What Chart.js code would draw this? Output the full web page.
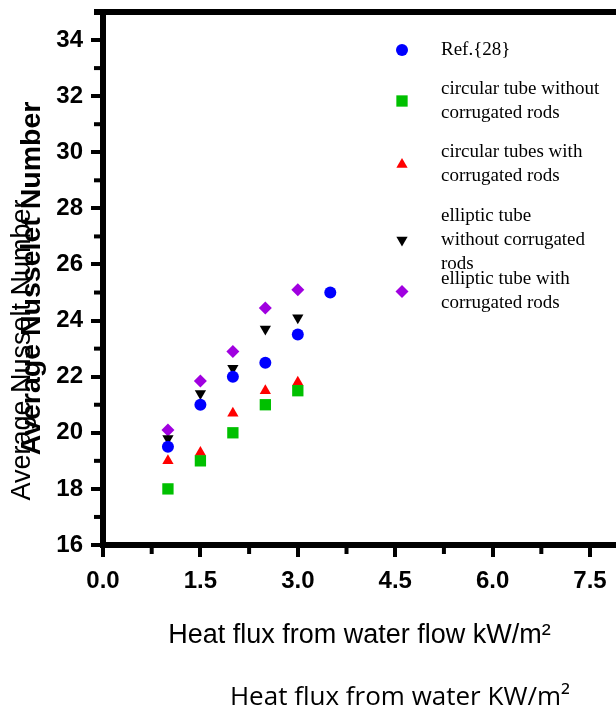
<!DOCTYPE html>
<html>
<head>
<meta charset="utf-8">
<script src="https://cdn.jsdelivr.net/npm/chart.js@4.4.0/dist/chart.umd.min.js"></script>
<style>
  html, body { margin: 0; padding: 0; background: #fff; }
  #wrap { width: 616px; height: 722px; }
</style>
</head>
<body>
<div id="wrap"><canvas id="chart" width="616" height="722"></canvas></div>
<script>
// heat flux (kW/m2) for the measured series, the reference goes one step further
var heatFlux = [1.0, 1.5, 2.0, 2.5, 3.0];
var refHeatFlux = [1.0, 1.5, 2.0, 2.5, 3.0, 3.5];

// average Nusselt number
var ref28 = [19.5, 21.0, 22.0, 22.5, 23.5, 25.0];
var circularPlain = [18.0, 19.0, 20.0, 21.0, 21.5];
var circularRods = [19.0, 19.3, 20.7, 21.5, 21.8];
var ellipticPlain = [19.8, 21.4, 22.3, 23.7, 24.1];
var ellipticRods = [20.1, 21.85, 22.9, 24.45, 25.1];

// legend text, one entry per line
var seriesLabels = [
  ['Ref.{28}'],
  ['circular tube without', 'corrugated rods'],
  ['circular tubes with', 'corrugated rods'],
  ['elliptic tube', 'without corrugated', 'rods'],
  ['elliptic tube with', 'corrugated rods']
];

var xTitle = 'Heat flux from water flow kW/m\u00b2';
var xTitle2 = 'Heat flux from water KW/m\u00b2';
var yTitle = 'Average Nusselet Number';
var yTitle2 = 'Average Nusselt Number';

var sans = "'Liberation Sans', Arial, sans-serif";
var tickFont = { family: sans, size: 24, weight: 'bold' };

function pairs(xs, ys) {
  var out = [];
  for (var i = 0; i < ys.length; i++) {
    out.push({ x: xs[i], y: ys[i] });
  }
  return out;
}

function series(i, xs, ys, color, style, radius, rotation) {
  return {
    label: seriesLabels[i].join(' '),
    lines: seriesLabels[i],
    data: pairs(xs, ys),
    backgroundColor: color,
    borderColor: color,
    pointStyle: style,
    pointRadius: radius,
    pointRotation: rotation || 0,
    pointBorderWidth: 0,
    pointHoverRadius: radius
  };
}

// minor ticks, top frame line, the second pair of axis titles and the legend
var extras = {
  id: 'extras',
  afterDraw: function(chart) {
    var ctx = chart.ctx;
    var area = chart.chartArea;
    var xs = chart.scales.x, ys = chart.scales.y;
    var v, p;
    ctx.save();

    ctx.strokeStyle = '#000';
    ctx.lineWidth = 4;
    for (v = ys.min + 1; v <= ys.max + 0.001; v += 2) {
      p = ys.getPixelForValue(v);
      ctx.beginPath();
      ctx.moveTo(area.left - 3, p);
      ctx.lineTo(area.left - 9, p);
      ctx.stroke();
    }
    for (v = 0.75; v <= xs.max; v += 1.5) {
      p = xs.getPixelForValue(v);
      ctx.beginPath();
      ctx.moveTo(p, area.bottom + 3);
      ctx.lineTo(p, area.bottom + 9);
      ctx.stroke();
    }

    ctx.lineWidth = 6;
    ctx.beginPath();
    ctx.moveTo(area.left - 9, area.top);
    ctx.lineTo(chart.width, area.top);
    ctx.stroke();

    ctx.fillStyle = '#000';
    ctx.textAlign = 'center';
    ctx.textBaseline = 'middle';
    ctx.font = "26px 'Open Sans', sans-serif";
    ctx.fillText(xTitle2, 400, 698);

    ctx.save();
    ctx.translate(23, 350);
    ctx.rotate(-Math.PI / 2);
    ctx.font = '27px ' + sans;
    ctx.fillText(yTitle2, 0, 0);
    ctx.restore();

    // legend
    var markX = 402, textX = 441, lineH = 24;
    ctx.font = "19px 'Liberation Serif', 'Times New Roman', serif";
    ctx.textAlign = 'left';
    chart.data.datasets.forEach(function(ds, i) {
      var top = i === 0 ? 50 : 89 + 63.5 * (i - 1);
      var mid = top + (ds.lines.length - 1) * lineH / 2;
      ctx.fillStyle = ds.backgroundColor;
      Chart.helpers.drawPoint(ctx, {
        pointStyle: ds.pointStyle,
        radius: ds.pointRadius,
        rotation: ds.pointRotation,
        borderWidth: 0
      }, markX, mid);
      ctx.fillStyle = '#000';
      ds.lines.forEach(function(t, j) {
        ctx.fillText(t, textX, top + j * lineH);
      });
    });

    ctx.restore();
  }
};

new Chart(document.getElementById('chart'), {
  type: 'scatter',
  data: {
    datasets: [
      series(0, refHeatFlux, ref28, '#0000ff', 'circle', 6),
      series(1, heatFlux, circularPlain, '#00c000', 'rect', 8),
      series(2, heatFlux, circularRods, '#ff0000', 'triangle', 6.5),
      series(3, heatFlux, ellipticPlain, '#000000', 'triangle', 6.5, 180),
      series(4, heatFlux, ellipticRods, '#a000e0', 'rectRot', 6.5)
    ]
  },
  options: {
    responsive: false,
    animation: false,
    layout: { autoPadding: false, padding: { top: 12, right: 0, bottom: 0, left: 0 } },
    plugins: {
      legend: { display: false },
      tooltip: { enabled: false }
    },
    scales: {
      x: {
        type: 'linear',
        min: 0,
        max: 7.9,
        ticks: {
          stepSize: 1.5,
          includeBounds: false,
          padding: 10,
          color: '#000',
          font: tickFont,
          maxRotation: 0,
          autoSkip: false,
          callback: function(v) { return v.toFixed(1); }
        },
        grid: { drawOnChartArea: false, tickLength: 12, tickWidth: 4, tickColor: '#000', color: '#000', lineWidth: 4 },
        border: { width: 6, color: '#000' },
        title: {
          display: true,
          text: xTitle,
          color: '#000',
          font: { family: sans, size: 27 },
          padding: { top: 0, bottom: 70 }
        },
        afterFit: function(s) {
          s.height = 177;
          s.paddingLeft = 0;
          s.paddingRight = 0;
        }
      },
      y: {
        min: 16,
        max: 35,
        ticks: {
          stepSize: 2,
          includeBounds: false,
          padding: 8,
          color: '#000',
          font: tickFont
        },
        grid: { drawOnChartArea: false, tickLength: 12, tickWidth: 4, tickColor: '#000', color: '#000', lineWidth: 4 },
        border: { width: 6, color: '#000' },
        title: {
          display: true,
          text: yTitle,
          color: '#000',
          font: { family: sans, size: 28.5, weight: 'bold' },
          padding: { top: 15, bottom: 0 }
        },
        afterFit: function(s) {
          s.width = 103;
          s.paddingTop = 0;
          s.paddingBottom = 0;
        }
      }
    }
  },
  plugins: [extras]
});
</script>
</body>
</html>
